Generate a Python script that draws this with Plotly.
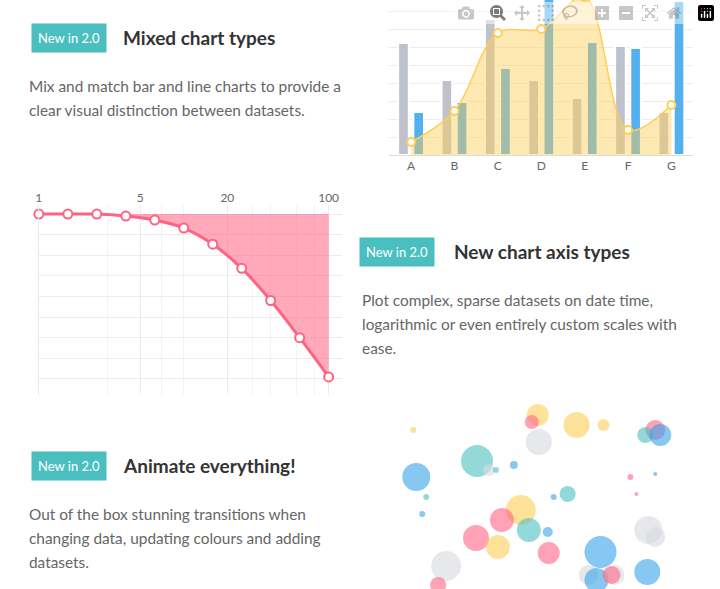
import plotly.graph_objects as go

W, H = 720, 589
def py(p):  # pixel y -> paper
    return 1 - p / H
def px(p):
    return p / W

# --- Mixed chart data ---
cats = ["A", "B", "C", "D", "E", "F", "G"]
grey_vals = [112, 75, 136, 75, 57, 109, 43]
blue_vals = [43, 53, 87, 160, 113, 107, 154]
line_vals = [13, 44, 122, 126, 158, 25, 50]

# --- Log chart data ---
log_x = [1, 1.585, 2.512, 3.981, 6.31, 10, 15.85, 25.12, 39.81, 63.1, 100]
log_y = [0, 0, 0, -0.2, -0.6, -1.4, -3.0, -5.4, -8.6, -12.3, -16.2]
log_ticks = [1, 5, 20, 100]

# --- Bubble data ---
bub_x = [537, 531, 576, 603, 412, 538, 655, 645, 660, 476, 415, 488, 513, 495, 630, 655, 567, 553, 636, 425,
         520, 501, 528, 421, 648, 655, 475, 497, 547, 548, 600, 588, 596, 614, 611, 647, 445, 437]
bub_y = [415, 422, 425, 425, 430, 442, 430, 435, 435, 461, 477, 470, 465, 470, 477, 474, 494, 497, 494, 497,
         510, 520, 530, 514, 530, 537, 538, 547, 532, 553, 552, 575, 580, 575, 575, 572, 566, 585]
bub_r = [11, 7, 13, 6, 3, 13, 10, 8, 11, 16, 14, 6, 4, 3, 3, 2, 8, 3, 2, 3,
         15, 12, 12, 3, 14, 10, 13, 12, 5, 11, 16, 10, 12, 10, 9, 13, 15, 8]
bub_c = ["yellow", "red", "yellow", "yellow", "yellow", "gray", "red", "teal", "blue", "teal", "blue", "gray",
         "blue", "teal", "red", "blue", "teal", "blue", "red", "teal",
         "yellow", "red", "teal", "blue", "gray", "gray", "red", "yellow", "blue", "red", "blue", "gray",
         "blue", "gray", "red", "blue", "gray", "red"]
palette = {"red": "rgba(255,99,132,0.85)", "blue": "rgba(54,162,235,0.85)",
           "yellow": "rgba(255,206,86,0.85)", "teal": "rgba(75,192,192,0.85)",
           "gray": "rgba(215,217,222,0.85)"}

fig = go.Figure()
# Mixed chart
fig.add_trace(go.Bar(x=cats, y=grey_vals, marker=dict(color="rgba(180,182,195,0.85)", line=dict(color="white", width=2)),
                     xaxis="x", yaxis="y"))
fig.add_trace(go.Bar(x=cats, y=blue_vals, marker=dict(color="rgba(54,162,235,0.85)", line=dict(color="white", width=2)),
                     xaxis="x", yaxis="y"))
fig.add_trace(go.Scatter(x=cats, y=line_vals, mode="lines+markers", line=dict(color="#ffce56", shape="spline", width=1.5),
                         fill="tozeroy", fillcolor="rgba(255,206,86,0.45)",
                         marker=dict(size=8, color="white", line=dict(color="#ffce56", width=2)),
                         xaxis="x", yaxis="y"))
# Log chart
fig.add_trace(go.Scatter(x=log_x, y=[0] * len(log_x), mode="lines", line=dict(width=0), xaxis="x2", yaxis="y2"))
fig.add_trace(go.Scatter(x=log_x, y=log_y, mode="lines+markers", fill="tonexty", fillcolor="rgba(255,99,132,0.55)",
                         line=dict(color="#ff6384", width=3, shape="spline"),
                         marker=dict(size=9, color="white", line=dict(color="#ff6384", width=2)),
                         xaxis="x2", yaxis="y2", cliponaxis=False))
# Bubbles
fig.add_trace(go.Scatter(x=bub_x, y=bub_y, mode="markers",
                         marker=dict(size=[2 * r for r in bub_r], color=[palette[c] for c in bub_c], line=dict(width=0)),
                         xaxis="x3", yaxis="y3"))

grid = "#ececec"
fig.update_layout(
    width=W, height=H, margin=dict(l=0, r=0, t=0, b=0), showlegend=False,
    paper_bgcolor="white", plot_bgcolor="white", barmode="group", bargap=0.3, bargroupgap=0.3,
    font=dict(family="Lato", color="#666"),
    xaxis=dict(domain=[px(388), px(693)], anchor="y", showgrid=False, ticks="", tickfont=dict(size=12, color="#666"),
               showline=True, linecolor="#ddd", range=[-0.5, 6.5]),
    yaxis=dict(domain=[py(155), 1], range=[0, 155], dtick=18, gridcolor=grid, showticklabels=False,
               zeroline=False, anchor="x"),
    xaxis2=dict(domain=[px(36), px(340)], type="log", range=[0, 2 * 304 / 291], side="top", anchor="y2",
                tickvals=log_ticks, ticktext=[str(v) for v in log_ticks], tickfont=dict(size=12, color="#666"),
                gridcolor=grid, showline=False, zeroline=False,
                minor=dict(tickvals=[3, 7, 10, 30, 40, 60, 80], showgrid=True, gridcolor="#f3f3f3")),
    yaxis2=dict(domain=[py(395), py(205)], range=[-18, 0.9], tick0=0, dtick=2.05, gridcolor=grid,
                showticklabels=False, zeroline=False, showline=True, linecolor="#e8e8e8", anchor="x2"),
    xaxis3=dict(domain=[px(400), px(700)], range=[400, 700], visible=False, anchor="y3"),
    yaxis3=dict(domain=[0, py(400)], range=[589, 400], visible=False, anchor="x3"),
)

teal = "#4bbfbf"
def badge(cx, cy):
    fig.add_annotation(x=px(cx), y=py(cy), xref="paper", yref="paper", text="New in 2.0", showarrow=False,
                       xanchor="center", yanchor="middle",
                       font=dict(size=13, color="white", family="Lato"), bgcolor=teal, borderpad=6)
def title(x, y, t):
    fig.add_annotation(x=px(x), y=py(y), xref="paper", yref="paper", text="<b>" + t + "</b>", showarrow=False,
                       xanchor="left", yanchor="middle", font=dict(size=19, color="#333", family="Lato"))
def body(x, y, lines):
    for i, l in enumerate(lines):
        fig.add_annotation(x=px(x), y=py(y + 24 * i), xref="paper", yref="paper", text=l, showarrow=False,
                           xanchor="left", yanchor="middle", font=dict(size=15.4, color="#666", family="Lato"))

badge(66, 38); title(118, 38, "Mixed chart types")
body(24, 86, ["Mix and match bar and line charts to provide a", "clear visual distinction between datasets."])
badge(396, 252); title(451, 251, "New chart axis types")
body(358, 300, ["Plot complex, sparse datasets on date time,", "logarithmic or even entirely custom scales with", "ease."])
badge(66, 466); title(118, 465, "Animate everything!")
body(24, 514, ["Out of the box stunning transitions when", "changing data, updating colours and adding", "datasets."])

fig.write_html("out.html", post_script="document.body.style.margin='0';")
